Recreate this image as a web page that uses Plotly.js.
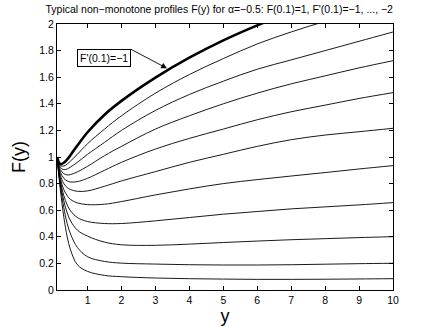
<!DOCTYPE html>
<html>
<head>
<meta charset="utf-8">
<script src="https://cdn.plot.ly/plotly-3.0.1.min.js"></script>
<style>
  html, body { margin: 0; padding: 0; background: #fff; }
  #chart { width: 435px; height: 326px; }
</style>
</head>
<body>
<div id="chart"></div>
<script>
// sample points along y
let ys = [0.1, 0.15, 0.2, 0.3, 0.4, 0.5, 0.7, 1, 1.5, 2, 3, 4, 5, 6, 7, 8, 9, 10];

// F'(0.1) = -1 ... -2, one profile each
let slopes = [-1, -1.1, -1.2, -1.3, -1.4, -1.5, -1.6, -1.7, -1.8, -1.9, -2];

let F_10 = [1, 0.962, 0.947, 0.957, 0.982, 1.015, 1.086, 1.186, 1.318, 1.422, 1.597, 1.747, 1.877, 1.99, 2.09, 2.18, 2.26, 2.34];
let F_11 = [1, 0.955, 0.935, 0.932, 0.947, 0.97, 1.02, 1.10, 1.21, 1.31, 1.48, 1.62, 1.74, 1.85, 1.94, 2.02, 2.09, 2.16];
let F_12 = [1, 0.95, 0.922, 0.905, 0.91, 0.925, 0.96, 1.02, 1.11, 1.20, 1.35, 1.47, 1.57, 1.66, 1.73, 1.80, 1.87, 1.94];
let F_13 = [1, 0.94, 0.905, 0.875, 0.865, 0.868, 0.888, 0.93, 1.01, 1.08, 1.21, 1.31, 1.40, 1.48, 1.55, 1.61, 1.67, 1.724];
let F_14 = [1, 0.93, 0.885, 0.84, 0.82, 0.812, 0.815, 0.84, 0.90, 0.96, 1.06, 1.14, 1.21, 1.28, 1.34, 1.39, 1.44, 1.484];
let F_15 = [1, 0.92, 0.862, 0.80, 0.77, 0.755, 0.742, 0.745, 0.78, 0.82, 0.89, 0.96, 1.02, 1.08, 1.13, 1.165, 1.19, 1.216];
let F_16 = [1, 0.91, 0.84, 0.755, 0.71, 0.68, 0.655, 0.642, 0.645, 0.665, 0.715, 0.76, 0.80, 0.83, 0.857, 0.883, 0.91, 0.935];
let F_17 = [1, 0.90, 0.82, 0.71, 0.64, 0.595, 0.545, 0.515, 0.50, 0.50, 0.52, 0.545, 0.57, 0.59, 0.61, 0.625, 0.64, 0.657];
let F_18 = [1, 0.89, 0.80, 0.67, 0.58, 0.52, 0.45, 0.405, 0.36, 0.34, 0.336, 0.345, 0.357, 0.368, 0.378, 0.386, 0.394, 0.401];
let F_19 = [1, 0.88, 0.78, 0.62, 0.50, 0.42, 0.32, 0.25, 0.215, 0.202, 0.195, 0.19, 0.188, 0.188, 0.19, 0.194, 0.198, 0.201];
let F_20 = [1, 0.87, 0.75, 0.55, 0.40, 0.30, 0.19, 0.14, 0.11, 0.10, 0.09, 0.085, 0.082, 0.08, 0.08, 0.081, 0.083, 0.085];

let profiles = [F_10, F_11, F_12, F_13, F_14, F_15, F_16, F_17, F_18, F_19, F_20];

let traces = profiles.map((f, i) => {
  return {
    x: ys,
    y: f,
    type: 'scatter',
    mode: 'lines',
    name: "F'(0.1)=" + slopes[i],
    line: {color: '#000', width: i == 0 ? 2.6 : 0.9, shape: 'spline', smoothing: 1},
    hoverinfo: 'skip'
  };
});

let axisStyle = {
  showline: true,
  linecolor: '#000',
  linewidth: 1,
  mirror: 'allticks',
  ticks: 'inside',
  ticklen: 4,
  tickcolor: '#000',
  showgrid: false,
  zeroline: false,
  tickfont: {family: 'Liberation Sans, Arial, sans-serif', size: 10.5, color: '#000'}
};

let layout = {
  width: 435,
  height: 326,
  margin: {l: 57, r: 42, t: 24, b: 36},
  paper_bgcolor: '#fff',
  plot_bgcolor: '#fff',
  showlegend: false,
  font: {family: 'Liberation Sans, Arial, sans-serif', color: '#000'},
  title: {
    text: "Typical non\u2212monotone profiles F(y) for \u03b1=\u22120.5: F(0.1)=1, F'(0.1)=\u22121, ..., \u22122",
    font: {size: 10.5, color: '#000'},
    x: 0.504, xanchor: 'center',
    y: 0.97, yanchor: 'middle'
  },
  xaxis: Object.assign({}, axisStyle, {
    range: [0.1, 10],
    tickvals: [1, 2, 3, 4, 5, 6, 7, 8, 9, 10],
    title: {text: 'y', font: {size: 18}, standoff: 0}
  }),
  yaxis: Object.assign({}, axisStyle, {
    range: [0, 2],
    dtick: 0.2,
    title: {text: 'F(y)', font: {size: 18}, standoff: 8}
  }),
  annotations: [{
    x: 3.34, y: 1.667,
    xref: 'x', yref: 'y',
    text: "F'(0.1)=\u22121",
    font: {size: 10.5, color: '#000'},
    showarrow: true,
    arrowhead: 2,
    arrowsize: 1.3,
    arrowwidth: 0.9,
    arrowcolor: '#000',
    ax: -36, ay: -19,
    xanchor: 'right', yanchor: 'top',
    bordercolor: '#000',
    borderwidth: 1,
    borderpad: 2,
    bgcolor: '#fff'
  }]
};

Plotly.newPlot('chart', traces, layout, {staticPlot: true});
</script>
</body>
</html>
